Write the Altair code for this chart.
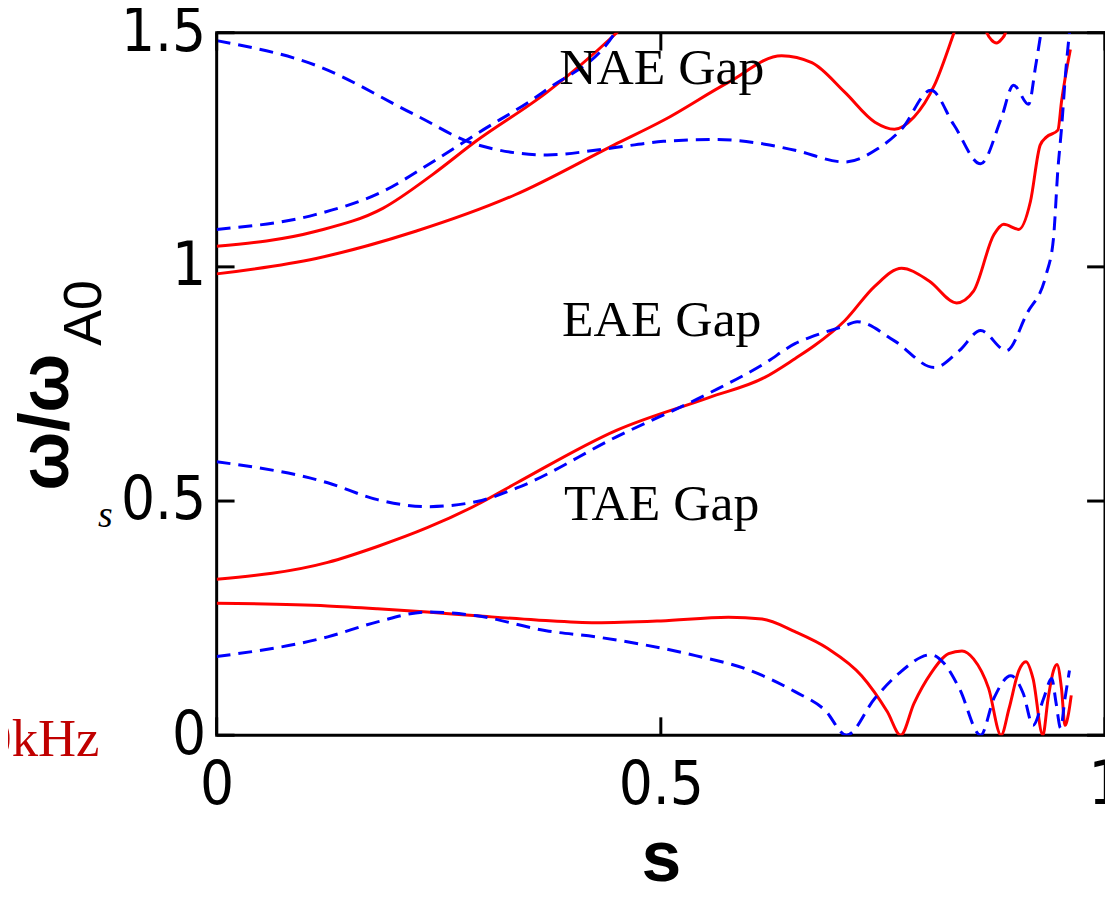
import altair as alt
import pandas as pd

# ---------------- data ----------------
# red solid branches
R1_s = [0, 0.125, 0.181, 0.237, 0.293, 0.36, 0.427, 0.50, 0.576, 0.614, 0.651, 0.688, 0.726, 0.755,
        0.770, 0.785, 0.804, 0.824, 0.839, 0.852, 0.869, 0.883, 0.892, 0.903, 0.911, 0.919, 0.930,
        0.936, 0.942, 0.946, 0.951, 0.955, 0.959, 0.962]
R1_w = [0.282, 0.276, 0.270, 0.263, 0.255, 0.246, 0.240, 0.244, 0.252, 0.248, 0.221, 0.185, 0.127, 0.050,
        0.0, 0.068, 0.132, 0.174, 0.180, 0.163, 0.100, 0.0, 0.057, 0.138, 0.157, 0.121, 0.0,
        0.079, 0.138, 0.151, 0.100, 0.021, 0.047, 0.085]

R2_s = [0, 0.125, 0.181, 0.237, 0.293, 0.338, 0.450, 0.554, 0.617, 0.651, 0.673, 0.707, 0.741, 0.771,
        0.802, 0.833, 0.852, 0.875, 0.886, 0.903, 0.916, 0.927, 0.934, 0.947, 0.951, 0.961]
R2_w = [0.333, 0.369, 0.403, 0.443, 0.492, 0.539, 0.651, 0.721, 0.764, 0.804, 0.832, 0.885, 0.959, 0.997,
        0.970, 0.923, 0.948, 1.069, 1.091, 1.080, 1.139, 1.260, 1.277, 1.292, 1.352, 1.464]

R3_s = [0, 0.112, 0.224, 0.336, 0.447, 0.503, 0.576, 0.636, 0.670, 0.707, 0.741, 0.763, 0.785, 0.808,
        0.830, 0.841]
R3_w = [0.985, 1.018, 1.076, 1.154, 1.260, 1.313, 1.394, 1.451, 1.436, 1.373, 1.309, 1.294, 1.320, 1.388,
        1.500, 1.560]

R4_s = [0, 0.112, 0.187, 0.243, 0.291, 0.372, 0.447, 0.472]
R4_w = [1.044, 1.076, 1.125, 1.197, 1.267, 1.373, 1.494, 1.540]

R5_s = [0.860, 0.867, 0.872, 0.878, 0.883, 0.888, 0.892]
R5_w = [1.550, 1.500, 1.485, 1.478, 1.485, 1.500, 1.550]

# blue dashed branches
B1_s = [0, 0.125, 0.181, 0.237, 0.293, 0.371, 0.427, 0.539, 0.595, 0.651, 0.685, 0.709, 0.741, 0.768,
        0.804, 0.819, 0.836, 0.860, 0.875, 0.894, 0.908, 0.919, 0.931, 0.940, 0.945, 0.950, 0.955, 0.960]
B1_w = [0.168, 0.210, 0.242, 0.263, 0.255, 0.223, 0.210, 0.170, 0.142, 0.093, 0.053, 0.0, 0.079, 0.132,
        0.172, 0.153, 0.100, 0.0, 0.079, 0.127, 0.089, 0.021, 0.079, 0.121, 0.068, 0.015, 0.079, 0.138]

B2_s = [0, 0.125, 0.181, 0.237, 0.293, 0.338, 0.450, 0.554, 0.617, 0.651, 0.673, 0.707, 0.721, 0.763,
        0.808, 0.836, 0.860, 0.889, 0.912, 0.934, 0.942, 0.947, 0.951, 0.956, 0.960]
B2_w = [0.584, 0.539, 0.503, 0.488, 0.499, 0.528, 0.637, 0.730, 0.794, 0.836, 0.853, 0.874, 0.883, 0.842,
        0.785, 0.821, 0.864, 0.821, 0.900, 0.985, 1.061, 1.209, 1.294, 1.422, 1.500]

B3_s = [0, 0.112, 0.187, 0.243, 0.291, 0.372, 0.447, 0.455]
B3_w = [1.080, 1.112, 1.161, 1.224, 1.282, 1.379, 1.496, 1.520]

B4_s = [0, 0.112, 0.224, 0.291, 0.372, 0.438, 0.503, 0.562, 0.617, 0.651, 0.707, 0.744, 0.771, 0.804,
        0.830, 0.860, 0.883, 0.897, 0.914, 0.922, 0.928, 0.933]
B4_w = [1.483, 1.430, 1.324, 1.262, 1.239, 1.252, 1.268, 1.272, 1.262, 1.249, 1.224, 1.252, 1.294, 1.377,
        1.303, 1.220, 1.316, 1.388, 1.347, 1.430, 1.500, 1.553]

gap_labels = ["NAE Gap", "EAE Gap", "TAE Gap"]
gap_s = [0.501, 0.501, 0.501]
gap_w = [1.39, 0.853, 0.46]

x_ticks = [0, 0.5, 1]
y_ticks = [0, 0.5, 1, 1.5]

# ---------------- tables ----------------
def table(curves):
    rows = []
    for name, ss, ww in curves:
        for i, (s, w) in enumerate(zip(ss, ww)):
            rows.append({"curve": name, "i": i, "s": s, "w": w})
    return pd.DataFrame(rows)

df_red = table([("R1", R1_s, R1_w), ("R2", R2_s, R2_w), ("R3", R3_s, R3_w),
                ("R4", R4_s, R4_w), ("R5", R5_s, R5_w)])
df_blue = table([("B1", B1_s, B1_w), ("B2", B2_s, B2_w), ("B3", B3_s, B3_w),
                 ("B4", B4_s, B4_w)])
df_gap = pd.DataFrame({"s": gap_s, "w": gap_w, "t": gap_labels})
df_xt = pd.DataFrame({"v": x_ticks})
df_yt = pd.DataFrame({"v": y_ticks})

W, H = 894, 707
NUM_FONT = "Liberation Sans Narrow, DejaVu Sans Condensed, Liberation Sans"

xs = alt.Scale(domain=[0, 1], nice=False, zero=False)
ys = alt.Scale(domain=[0, 1.5], nice=False, zero=False)

red = alt.Chart(df_red).mark_line(color="#ff0000", strokeWidth=3, clip=True,
                                  interpolate="monotone").encode(
    x=alt.X("s:Q", scale=xs, axis=alt.Axis(values=x_ticks, format="~g", title="s",
                                            labelPadding=22, titlePadding=8)),
    y=alt.Y("w:Q", scale=ys, axis=alt.Axis(values=y_ticks, format="~g", title=None,
                                            labelPadding=11)),
    detail="curve:N", order="i:Q")

blue = alt.Chart(df_blue).mark_line(color="#0000ff", strokeWidth=3, strokeDash=[14, 8], clip=True,
                                    interpolate="monotone").encode(
    x=alt.X("s:Q", scale=xs), y=alt.Y("w:Q", scale=ys),
    detail="curve:N", order="i:Q")

gaps = alt.Chart(df_gap).mark_text(font="Liberation Serif", fontSize=52, baseline="alphabetic",
                                   align="center", color="black").encode(
    x=alt.X("s:Q", scale=xs), y=alt.Y("w:Q", scale=ys), text="t:N")

TL = 18
ytick_l = alt.Chart(df_yt).mark_rule(color="black", strokeWidth=3).encode(
    y=alt.Y("v:Q", scale=ys), x=alt.value(0), x2=alt.value(TL))
ytick_r = alt.Chart(df_yt).mark_rule(color="black", strokeWidth=3).encode(
    y=alt.Y("v:Q", scale=ys), x=alt.value(W - TL), x2=alt.value(W))
xtick_b = alt.Chart(df_xt).mark_rule(color="black", strokeWidth=3).encode(
    x=alt.X("v:Q", scale=xs), y=alt.value(H - TL), y2=alt.value(H))
xtick_t = alt.Chart(df_xt).mark_rule(color="black", strokeWidth=3).encode(
    x=alt.X("v:Q", scale=xs), y=alt.value(0), y2=alt.value(TL))

def label(text, x, y, **kw):
    return alt.Chart(pd.DataFrame({"t": [text]})).mark_text(**kw).encode(
        x=alt.value(x), y=alt.value(y), text="t:N")

omega = label("ω/ω", -150, 392, angle=270, align="center", baseline="alphabetic",
              font="Liberation Sans", fontSize=70, fontWeight="bold", color="black")
sub = label("A0", -116, 282, angle=270, align="center", baseline="alphabetic",
            font="Liberation Sans", fontSize=54, color="black")
s_it = label("s", -112, 497, align="center", baseline="alphabetic",
             font="Liberation Serif", fontSize=38, fontStyle="italic", color="black")
khz = label("0kHz", -118, 728, align="right", baseline="alphabetic",
            font="Liberation Serif", fontSize=53, color="#c00000")

chart = alt.layer(red, blue, gaps, ytick_l, ytick_r, xtick_b, xtick_t, omega, sub, s_it, khz).properties(
    width=W, height=H,
    autosize=alt.AutoSizeParams(type="none"),
    padding={"left": 210, "top": 22, "right": 0, "bottom": 166},
).configure_view(
    stroke="black", strokeWidth=3
).configure_axis(
    grid=False, ticks=False, domain=False, labelFont=NUM_FONT, labelFontSize=60,
    labelColor="black", labelFlush=False, titleFont="Liberation Sans", titleFontSize=72,
    titleFontWeight="bold", titleColor="black"
)

chart.save("out.html", embed_options={"renderer": "svg", "actions": False})
